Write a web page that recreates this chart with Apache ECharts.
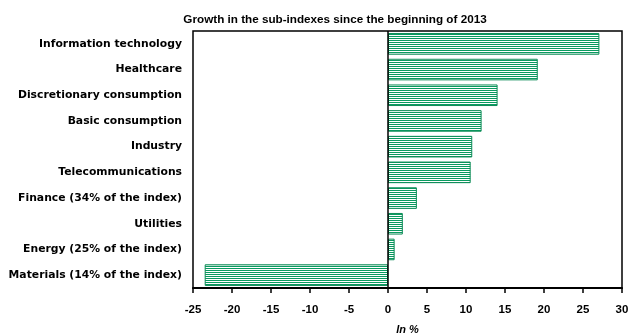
<!DOCTYPE html>
<html>
<head>
<meta charset="utf-8">
<script src="https://cdn.jsdelivr.net/npm/echarts@6/dist/echarts.min.js"></script>
<style>
  html, body { margin: 0; padding: 0; background: #fff; }
  #chart { width: 634px; height: 335px; }
</style>
</head>
<body>
<div id="chart"></div>
<script>
// Sectors, listed bottom-to-top as the category axis draws them
const sectors = [
  'Materials (14% of the index)',
  'Energy (25% of the index)',
  'Utilities',
  'Finance (34% of the index)',
  'Telecommunications',
  'Industry',
  'Basic consumption',
  'Discretionary consumption',
  'Healthcare',
  'Information technology'
];
// Growth since the beginning of 2013, in %
const growth = [-23.5, 0.85, 1.9, 3.7, 10.6, 10.8, 12.0, 14.05, 19.2, 27.1];
const xTicks = { min: -25, max: 30, step: 5 };

// Horizontal hatch fill: thin green lines on white
function stripePattern() {
  const c = document.createElement('canvas');
  c.width = 4; c.height = 2;
  const g = c.getContext('2d');
  g.fillStyle = '#ffffff'; g.fillRect(0, 0, 4, 2);
  g.fillStyle = '#0a9a60'; g.fillRect(0, 0, 4, 1);
  return c;
}

const chart = echarts.init(document.getElementById('chart'), null, { renderer: 'canvas' });
const font = 'Liberation Sans, Arial, sans-serif';
const wideFont = 'DejaVu Sans, Liberation Sans, sans-serif';

chart.setOption({
  animation: false,
  title: {
    text: 'Growth in the sub-indexes since the beginning of 2013',
    left: 330, top: 9, textAlign: 'center',
    textStyle: { fontFamily: font, fontSize: 11.7, fontWeight: 'bold', color: '#000' }
  },
  grid: {
    left: 193, right: 12, top: 31, bottom: 47,
    outerBoundsMode: 'none', containLabel: false,
    show: true, borderColor: '#000', borderWidth: 1.5, backgroundColor: 'transparent'
  },
  xAxis: {
    type: 'value',
    min: xTicks.min, max: xTicks.max, interval: xTicks.step,
    name: 'In %', nameLocation: 'middle', nameGap: 36,
    nameTextStyle: { fontFamily: font, fontSize: 11, fontWeight: 'bold', fontStyle: 'italic', color: '#000' },
    axisLine: { show: true, lineStyle: { color: '#000', width: 2 } },
    axisTick: { show: true, length: 5, lineStyle: { color: '#000', width: 1.5 } },
    axisLabel: { fontFamily: font, fontSize: 11.5, fontWeight: 'bold', color: '#000', margin: 16 },
    splitLine: { show: false }
  },
  yAxis: {
    type: 'category',
    data: sectors,
    axisLine: { show: false },
    axisTick: { show: false },
    axisLabel: { fontFamily: wideFont, fontSize: 10.8, fontWeight: 'bold', color: '#000', margin: 11 }
  },
  series: [{
    type: 'bar',
    data: growth,
    barCategoryGap: '16%',
    itemStyle: {
      color: { image: stripePattern(), repeat: 'repeat' },
      borderColor: '#0a8a55', borderWidth: 1
    },
    markLine: {
      silent: true, symbol: 'none', label: { show: false },
      lineStyle: { color: '#000', width: 1.5, type: 'solid' },
      data: [{ xAxis: 0 }]
    }
  }]
});
</script>
</body>
</html>
